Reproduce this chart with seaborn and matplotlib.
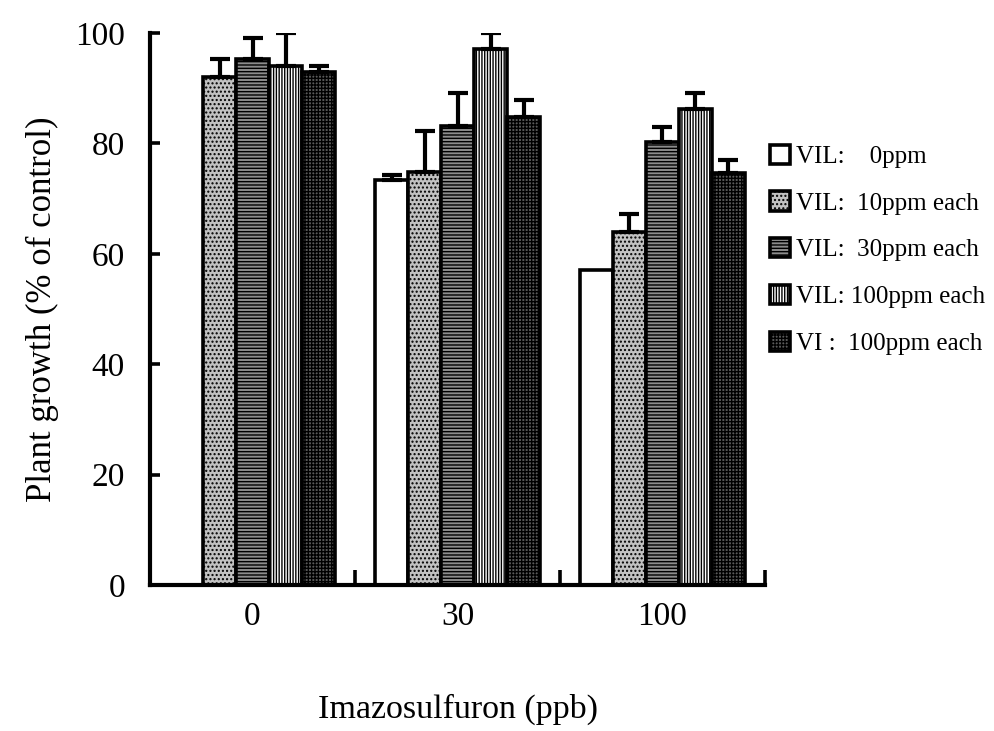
import numpy as np
import pandas as pd
import matplotlib
matplotlib.use("Agg")
import matplotlib.pyplot as plt
from matplotlib.container import BarContainer
import seaborn as sns

groups = ["0", "30", "100"]
series = ["VIL:    0ppm", "VIL:  10ppm each", "VIL:  30ppm each",
          "VIL: 100ppm each", "VI :  100ppm each"]
values_0ppm = [np.nan, 73.4, 57.1]
values_10ppm = [92.0, 74.8, 63.9]
values_30ppm = [95.3, 83.2, 80.3]
values_100ppm = [94.0, 97.1, 86.2]
values_vi100 = [92.9, 84.8, 74.6]
err_0ppm = [0.0, 0.9, 0.0]
err_10ppm = [3.3, 7.4, 3.3]
err_30ppm = [3.9, 5.9, 2.7]
err_100ppm = [6.0, 2.9, 2.9]
err_vi100 = [1.1, 3.1, 2.4]
yticks = [0, 20, 40, 60, 80, 100]

all_vals = [values_0ppm, values_10ppm, values_30ppm, values_100ppm, values_vi100]
all_errs = [err_0ppm, err_10ppm, err_30ppm, err_100ppm, err_vi100]

rows = []
for s, vals in zip(series, all_vals):
    for g, v in zip(groups, vals):
        rows.append({"group": g, "series": s, "value": v})
df = pd.DataFrame(rows)

sns.set_style("white")
plt.rcParams["font.family"] = ["Liberation Serif", "DejaVu Serif"]
plt.rcParams["hatch.linewidth"] = 1.0
plt.rcParams["text.color"] = "black"
plt.rcParams["axes.labelcolor"] = "black"
plt.rcParams["xtick.color"] = "black"
plt.rcParams["ytick.color"] = "black"

fig = plt.figure(figsize=(9.95, 7.31), dpi=100)
ax = fig.add_axes([0.1508, 0.1997, 0.618, 0.755])

sns.barplot(data=df, x="group", y="value", hue="series", order=groups,
            hue_order=series, errorbar=None, width=0.805, ax=ax,
            edgecolor="black", linewidth=2.6, legend=False)

faces = ["white", "#c2c2c2", "#8c8c8c", "white", "#5a5a5a"]
hatches = [None, "....", "-----", "||||||", "+++++"]

bar_conts = [c for c in ax.containers if isinstance(c, BarContainer)]
for i, cont in enumerate(bar_conts):
    for p in cont.patches:
        p.set_facecolor(faces[i])
        p.set_edgecolor("black")
        p.set_linewidth(2.6)
        if hatches[i]:
            p.set_hatch(hatches[i])
        h = p.get_height()
        if np.isnan(h) or h == 0:
            continue
        xc = p.get_x() + p.get_width() / 2
        j = int(round(xc))
        e = all_errs[i][j]
        if e > 0:
            ax.errorbar([xc], [h], yerr=[[0], [e]], fmt="none", ecolor="black",
                        elinewidth=3.0, capsize=7.5, capthick=3.0, zorder=1)

ax.set_xlim(-0.5, 2.5)
ax.set_ylim(0, 100)
ax.set_yticks(yticks)
ax.set_yticklabels([str(t) for t in yticks])
ax.set_xticks([0, 1, 2])
ax.set_xticklabels(groups)
ax.set_xticks([0.5, 1.5, 2.5], minor=True)
ax.tick_params(axis="x", which="major", length=0, pad=12, labelsize=24)
ax.tick_params(axis="x", which="minor", direction="in", length=11, width=2.6,
               color="black", bottom=True)
ax.tick_params(axis="y", direction="in", length=7, width=2.6, color="black",
               left=True, pad=18, labelsize=24)
for side in ["top", "right"]:
    ax.spines[side].set_visible(False)
for side in ["left", "bottom"]:
    ax.spines[side].set_linewidth(3.0)
    ax.spines[side].set_color("black")

ax.set_xlabel("Imazosulfuron (ppb)", fontsize=24.5, labelpad=44)
ax.set_ylabel("Plant growth (% of control)", fontsize=25, labelpad=12)

handles = [cont.patches[-1] for cont in bar_conts]
leg = fig.legend(handles, series, loc="upper left",
                 bbox_to_anchor=(0.774, 0.802), frameon=False, fontsize=18,
                 handlelength=0.8, handleheight=0.8, handletextpad=0.25,
                 labelspacing=0.94, borderaxespad=0, borderpad=0)

fig.savefig("out.png", dpi=100)
